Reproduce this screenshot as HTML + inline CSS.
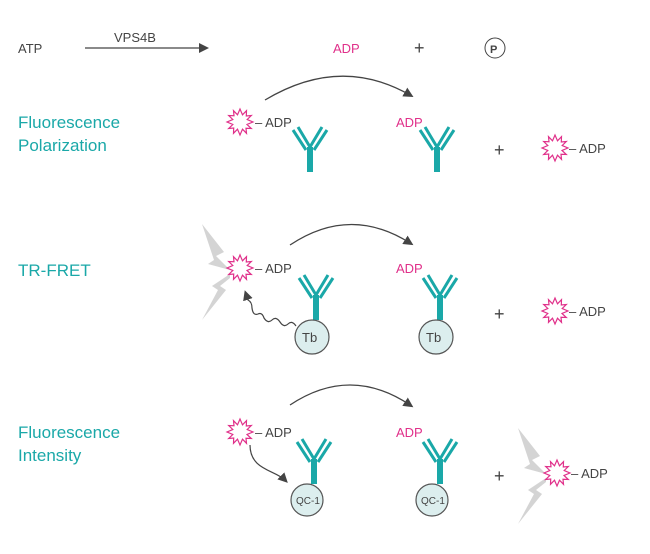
<!DOCTYPE html>
<html><head><style>
body{margin:0;background:#fff}
text{font-family:"Liberation Sans",sans-serif}
</style></head><body>
<svg width="650" height="549" viewBox="0 0 650 549" xmlns="http://www.w3.org/2000/svg">
<defs>
<g id="ab" stroke="#1aa8a8" fill="none">
<path d="M-17,-20 L-4,0 M-12,-23 L0,-3" stroke-width="3"/>
<path d="M17,-20 L4,0 M12,-23 L0,-3" stroke-width="3"/>
<path d="M0,-3 L0,22" stroke-width="6"/>
</g>
<polygon id="st" fill="#fff" stroke="#e0308a" stroke-width="1.2" points="13,0 7,2.5 11.3,6.5 6,6.3 6.5,11.3 2.5,7.2 0,13 -2.5,7.2 -6.5,11.3 -6.3,6 -11.3,6.5 -7.2,2.5 -13,0 -7.2,-2.5 -11.3,-6.5 -6,-6.3 -6.5,-11.3 -2.5,-7.2 0,-13 2.5,-7.2 6.5,-11.3 6.3,-6 11.3,-6.5 7.2,-2.5"/>
<marker id="ah" markerWidth="10" markerHeight="10" refX="6" refY="5" orient="auto" markerUnits="userSpaceOnUse"><path d="M0,0 L10,5 L0,10z" fill="#444"/></marker>
<g id="bolt" fill="#d4d4d4"><path d="M0,0 L22,28 L14,32 L28,46 L6,40 L12,36 Z"/><path d="M28,50 L10,62 L16,66 L0,96 L24,66 L18,62 L28,54Z"/></g>
</defs>
<g font-size="13" fill="#444">
<text x="18" y="53">ATP</text>
<text x="114" y="42">VPS4B</text>
<line x1="85" y1="48" x2="205" y2="48" stroke="#444" stroke-width="1.3" marker-end="url(#ah)"/>
<text x="333" y="53" fill="#e0308a">ADP</text>
<text x="414" y="54" font-size="18">+</text>
<circle cx="495" cy="48" r="10" fill="none" stroke="#444"/>
<text x="490" y="53" font-size="11" font-weight="bold">P</text>
</g>
<g font-size="17" fill="#1aa8a8">
<text x="18" y="128">Fluorescence</text><text x="18" y="151">Polarization</text>
<text x="18" y="276">TR-FRET</text>
<text x="18" y="438">Fluorescence</text><text x="18" y="461">Intensity</text>
</g>
<!-- row 1 -->
<use href="#st" x="240" y="122"/>
<text x="255" y="127" font-size="13" fill="#444">– ADP</text>
<use href="#ab" x="310" y="150"/>
<path d="M265,100 Q340,55 410,95" fill="none" stroke="#444" stroke-width="1.3" marker-end="url(#ah)"/>
<text x="396" y="127" font-size="13" fill="#e0308a">ADP</text>
<use href="#ab" x="437" y="150"/>
<text x="494" y="156" font-size="18" fill="#444">+</text>
<use href="#st" x="555" y="148"/>
<text x="569" y="153" font-size="13" fill="#444">– ADP</text>
<!-- row 2 -->
<use href="#bolt" x="202" y="224"/>
<use href="#st" x="240" y="268"/>
<text x="255" y="273" font-size="13" fill="#444">– ADP</text>
<use href="#ab" x="316" y="298"/>
<circle cx="312" cy="337" r="17" fill="#dceeee" stroke="#555" stroke-width="1.2"/>
<text x="302" y="342" font-size="13" fill="#444">Tb</text>
<path d="M296,326 q-4,-6 -8,-2 q-4,4 -8,-2 q-4,-6 -8,-2 q-4,4 -8,-2 q-2,-6 -6,-4 q-5,2 -6,-6 q0,-6 -4,-8 l-2,-6" fill="none" stroke="#444" stroke-width="1.2" marker-end="url(#ah)"/>
<path d="M290,245 Q350,205 410,243" fill="none" stroke="#444" stroke-width="1.3" marker-end="url(#ah)"/>
<text x="396" y="273" font-size="13" fill="#e0308a">ADP</text>
<use href="#ab" x="440" y="298"/>
<circle cx="436" cy="337" r="17" fill="#dceeee" stroke="#555" stroke-width="1.2"/>
<text x="426" y="342" font-size="13" fill="#444">Tb</text>
<text x="494" y="320" font-size="18" fill="#444">+</text>
<use href="#st" x="555" y="311"/>
<text x="569" y="316" font-size="13" fill="#444">– ADP</text>
<!-- row 3 -->
<use href="#st" x="240" y="432"/>
<text x="255" y="437" font-size="13" fill="#444">– ADP</text>
<use href="#ab" x="314" y="462"/>
<circle cx="307" cy="500" r="16" fill="#dceeee" stroke="#555" stroke-width="1.2"/>
<text x="296" y="504" font-size="10" fill="#444">QC-1</text>
<path d="M250,445 C250,470 275,470 285,480" fill="none" stroke="#444" stroke-width="1.2" marker-end="url(#ah)"/>
<path d="M290,405 Q350,365 410,405" fill="none" stroke="#444" stroke-width="1.3" marker-end="url(#ah)"/>
<text x="396" y="437" font-size="13" fill="#e0308a">ADP</text>
<use href="#ab" x="440" y="462"/>
<circle cx="432" cy="500" r="16" fill="#dceeee" stroke="#555" stroke-width="1.2"/>
<text x="421" y="504" font-size="10" fill="#444">QC-1</text>
<text x="494" y="482" font-size="18" fill="#444">+</text>
<use href="#bolt" x="518" y="428"/>
<use href="#st" x="557" y="473"/>
<text x="571" y="478" font-size="13" fill="#444">– ADP</text>
</svg>
</body></html>
